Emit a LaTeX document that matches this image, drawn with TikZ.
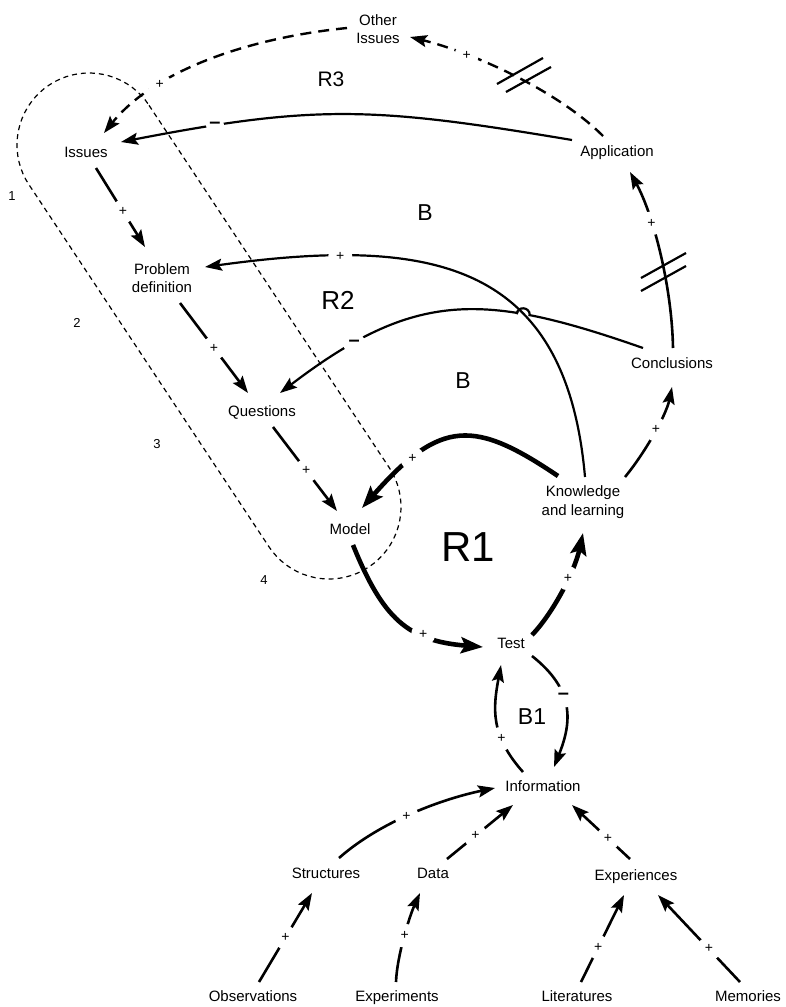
\documentclass[tikz,border=0pt]{standalone}
\usepackage{fontspec}
\setmainfont{Liberation Sans}
\usetikzlibrary{arrows.meta,intersections}
\begin{document}
\begin{tikzpicture}[x=1pt,y=-1pt,
  lbl/.style={font=\fontsize{15}{18.5}\selectfont, align=center, inner sep=0pt},
  one/.style={lbl, text height=11pt, text depth=3pt},
  num/.style={font=\fontsize{13}{13}\selectfont, inner sep=0pt},
  sgn/.style={circle, fill=white, inner sep=0pt, minimum size=24pt, font=\fontsize{14}{14}\selectfont},
  neg/.style={sgn, minimum size=22pt, font=\fontsize{20}{20}\selectfont\bfseries},
  link/.style={line width=2.6pt, -{Stealth[length=17pt,width=12pt,inset=3pt]}},
  thin link/.style={link, line width=2.2pt},
  thick link/.style={line width=4.6pt, -{Stealth[length=22pt,width=16pt,inset=4pt]}},
  delay link/.style={link, line width=2.4pt, dash pattern=on 11pt off 7pt},
  hash/.style={line width=2.2pt},
  capsule/.style={line width=1.2pt, dash pattern=on 5pt off 4pt}
]
\useasboundingbox (0,0) rectangle (785,1007);

% dashed capsule grouping
\draw[capsule] (149,105.3) -- (389,467.3)
  -- plot[domain=0:180, samples=37, variable=\t] ({329+72*(0.834*cos(\t)+0.552*sin(\t))},{507+72*(-0.552*cos(\t)+0.834*sin(\t))})
  -- (29,184.7)
  -- plot[domain=0:180, samples=37, variable=\t] ({89+72*(-0.834*cos(\t)-0.552*sin(\t))},{145+72*(0.552*cos(\t)-0.834*sin(\t))})
  -- cycle;

% variables
\node[lbl] (oth) at (378,29) {Other\\Issues};
\node[one] (iss) at (86,153) {Issues};
\node[lbl] (pdef) at (162,278) {Problem\\definition};
\node[one] (que) at (262,412) {Questions};
\node[one] (mod) at (350,530) {Model};
\node[one] (tst) at (511,644) {Test};
\node[lbl] (kno) at (583,502) {Knowledge\\and learning};
\node[one] (con) at (672,364) {Conclusions};
\node[one] (app) at (617,152) {Application};
\node[one] (inf) at (543,787) {Information};
\node[one] (str) at (326,874) {Structures};
\node[one] (dat) at (433,874) {Data};
\node[one] (exp) at (636,876) {Experiences};
\node[one] (obs) at (253,997) {Observations};
\node[one] (expm) at (397,997) {Experiments};
\node[one] (lit) at (577,997) {Literatures};
\node[one] (mem) at (748,997) {Memories};

% R3 loop (delayed links)
\draw[delay link] ([shift={(-14,-16)}]app.center) .. controls (557.5,90.5) and (473,52.6) .. ([shift={(32,8)}]oth.center) node[sgn, pos=0.72] {+};
\draw[hash] (497,84) -- (543,58);
\draw[hash] (506,92) -- (551,67);
\draw[delay link] ([shift={(-31,-1)}]oth.center) .. controls (247,38) and (154,71) .. ([shift={(18,-20)}]iss.center) node[sgn, pos=0.7] {+};
\draw[thin link] ([shift={(-45,-12)}]app.center) .. controls (375,107) and (317,104) .. ([shift={(35,-11)}]iss.center) node[neg, pos=0.82, minimum size=18pt] {–};

% chain on the left
\draw[link] ([shift={(10,15)}]iss.center) -- ([shift={(-17,-31)}]pdef.center) node[sgn, pos=0.55] {+};
\draw[link] ([shift={(18,25)}]pdef.center) -- ([shift={(-14,-19)}]que.center) node[sgn, pos=0.5] {+};
\draw[link] ([shift={(11,15)}]que.center) -- ([shift={(-13,-19)}]mod.center) node[sgn, pos=0.52] {+};

% R1 loop
\draw[thick link] ([shift={(3,15)}]mod.center) .. controls (383,619) and (408,641) .. ([shift={(-28,3)}]tst.center) node[sgn, pos=0.67] {+};
\draw[thick link] ([shift={(21,-9)}]tst.center) .. controls (554,612) and (575,570) .. ([shift={(0,31)}]kno.center) node[sgn, pos=0.6] {+};
\draw[thick link] ([shift={(-25,-26)}]kno.center) .. controls (475,420) and (441,418) .. ([shift={(12,-22)}]mod.center) node[sgn, pos=0.76] {+};

% R2 / B loops with crossing hop
\path[name path=kp] ([shift={(2,-25)}]kno.center) .. controls (566,260) and (430,236) .. ([shift={(43,-11)}]pdef.center);
\path[name path=cq] ([shift={(-29,-16)}]con.center) .. controls (483,292) and (415,290) .. ([shift={(18,-19)}]que.center);
\path[name intersections={of=kp and cq, by=X}];
\draw[thin link] ([shift={(-29,-16)}]con.center) .. controls (483,292) and (415,290) .. ([shift={(18,-19)}]que.center) node[neg, pos=0.8] {–};
\fill[white] (X) circle[radius=5.5pt];
\draw[line width=2.2pt] ([shift={(-6.5,0)}]X) .. controls ([shift={(-6.5,-8)}]X) and ([shift={(6.5,-8)}]X) .. ([shift={(6.5,1)}]X);
\draw[thin link] ([shift={(2,-25)}]kno.center) .. controls (566,260) and (430,236) .. ([shift={(43,-11)}]pdef.center) node[sgn, pos=0.78] {+};

\draw[link] ([shift={(42,-25)}]kno.center) .. controls (644,454) and (666,416) .. ([shift={(0,23)}]con.center) node[sgn, pos=0.55] {+};
\draw[link] ([shift={(1,-16)}]con.center) .. controls (672,288) and (654,216) .. ([shift={(13,20)}]app.center) node[sgn, pos=0.67] {+};
\draw[hash] (641,278) -- (686,253);
\draw[hash] (641,291) -- (686,266);

% B1 loop
\draw[link] ([shift={(21,12)}]tst.center) .. controls (575,690) and (572,722) .. ([shift={(11,-20)}]inf.center) node[neg, pos=0.4] {–};
\draw[link] ([shift={(-20,-15)}]inf.center) .. controls (490,735) and (493,708) .. ([shift={(-10,21)}]tst.center) node[sgn, pos=0.32] {+};

% sources of information
\draw[link] ([shift={(13,-16)}]str.center) .. controls (382,820) and (446,798) .. ([shift={(-48,1)}]inf.center) node[sgn, pos=0.45] {+};
\draw[link] ([shift={(14,-15)}]dat.center) -- ([shift={(-30,18)}]inf.center) node[sgn, pos=0.43] {+};
\draw[link] ([shift={(-6,-17)}]exp.center) -- ([shift={(29,18)}]inf.center) node[sgn, pos=0.38] {+};
\draw[link] ([shift={(6,-15)}]obs.center) -- ([shift={(-14,19)}]str.center) node[sgn, pos=0.5] {+};
\draw[link] ([shift={(-1,-15)}]expm.center) .. controls (397,955) and (410,915) .. ([shift={(-13,19)}]dat.center) node[sgn, pos=0.5] {+};
\draw[link] ([shift={(4,-15)}]lit.center) -- ([shift={(-12,19)}]exp.center) node[sgn, pos=0.4] {+};
\draw[link] ([shift={(-8,-15)}]mem.center) -- ([shift={(22,19)}]exp.center) node[sgn, pos=0.38] {+};

% loop labels
\node[inner sep=0pt, font=\fontsize{21}{21}\selectfont] (lr3) at (331,79) {R3};
\node[inner sep=0pt, font=\fontsize{23}{23}\selectfont] (lb1) at (425,213) {B};
\node[inner sep=0pt, font=\fontsize{26}{26}\selectfont] (lr2) at (338,300) {R2};
\node[inner sep=0pt, font=\fontsize{23}{23}\selectfont] (lb2) at (463,381) {B};
\node[inner sep=0pt, font=\fontsize{42}{42}\selectfont] (lr1) at (468,547) {R1};
\node[inner sep=0pt, font=\fontsize{23}{23}\selectfont] (lbb1) at (532,717) {B1};

% numbers along the capsule
\node[num] (n1) at (12,196) {1};
\node[num] (n2) at (77,323) {2};
\node[num] (n3) at (157,444) {3};
\node[num] (n4) at (264,580) {4};
\end{tikzpicture}
\end{document}
